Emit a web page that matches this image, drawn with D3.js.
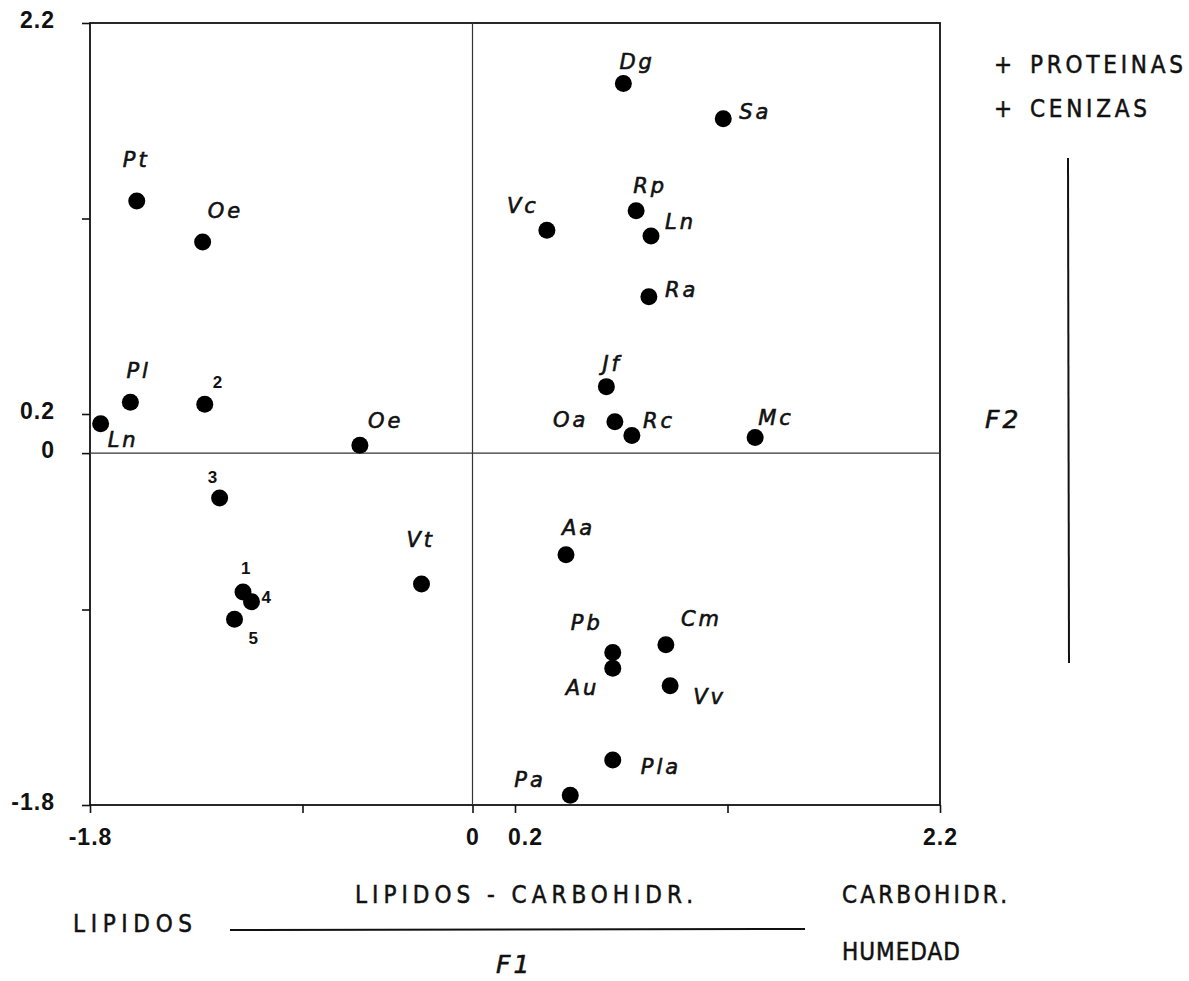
<!DOCTYPE html>
<html>
<head>
<meta charset="utf-8">
<script src="https://cdn.jsdelivr.net/npm/d3@7"></script>
<style>
    body { margin: 0; background: #fff; }
    svg text { fill: #111; }
    .axis path { display: none; }
    .axis line { stroke: #111; stroke-width: 1.6; }
    .axis text { font-family: "Liberation Sans", Arial, sans-serif; font-size: 23px; font-weight: bold; letter-spacing: 1px; fill: #111; }
    .lbl { font-family: "DejaVu Sans", sans-serif; font-style: italic; font-size: 21px; letter-spacing: 3px; stroke: #111; stroke-width: 0.6px; }
    .num { font-family: "Liberation Sans", Arial, sans-serif; font-weight: bold; font-size: 17px; }
    .cap { font-family: "DejaVu Sans Condensed", "DejaVu Sans", sans-serif; font-size: 24px; stroke: #111; stroke-width: 0.5px; }
    .big { font-family: "DejaVu Sans", sans-serif; font-style: italic; font-size: 25px; letter-spacing: 3px; stroke: #111; stroke-width: 0.6px; }
</style>
</head>
<body>
<div id="chart"></div>
<script>
/*
 factorial plane F1 x F2, species scores
 */

//species / sample names:
var names = ["Pt", "Oe", "Pl", "2", "Ln", "Oe", "3", "1", "4", "5", "Vt",
    "Dg", "Sa", "Rp", "Ln", "Vc", "Ra", "Jf", "Oa", "Rc", "Mc",
    "Aa", "Pb", "Au", "Cm", "Vv", "Pla", "Pa"];

//F1 scores:
var f1 = [-1.58, -1.27, -1.61, -1.26, -1.75, -0.53, -1.19, -1.08, -1.04, -1.12, -0.24,
    0.71, 1.18, 0.77, 0.84, 0.35, 0.83, 0.63, 0.67, 0.75, 1.33,
    0.44, 0.66, 0.66, 0.91, 0.93, 0.66, 0.46];

//F2 scores:
var f2 = [1.29, 1.08, 0.26, 0.25, 0.15, 0.04, -0.23, -0.71, -0.76, -0.85, -0.67,
    1.89, 1.71, 1.24, 1.11, 1.14, 0.80, 0.34, 0.16, 0.09, 0.08,
    -0.52, -1.02, -1.10, -0.98, -1.19, -1.57, -1.75];

//tick values and labels:
var xTicks = [-1.8, -0.8, 0, 0.2, 1.2, 2.2];
var xTickLabels = ["-1.8", "", "0", "0.2", "", "2.2"];
var yTicks = [2.2, 1.2, 0.2, 0, -0.8, -1.8];
var yTickLabels = ["2.2", "", "0.2", "0", "", "-1.8"];

//label placement (dx, dy from the dot), layout only
var labelOffsets = [[-14, -34], [5, -24], [-4, -24], [8, -16], [7, 23], [8, -17], [-12, -15], [-2, -18], [10, 1], [14, 25], [-15, -37],
    [-4, -15], [16, 0], [-3, -18], [14, -7], [-40, -17], [16, 0], [-4, -16], [-62, 5], [11, -8], [3, -12],
    [-4, -20], [-42, -23], [-47, 27], [15, -19], [23, 18], [28, 14], [-56, -8]];

var width = 1189;
var height = 981;

var plot = d3.select("#chart")
    .append("svg")
    .attr("width", width)
    .attr("height", height);

//scales:
var xScale = d3.scaleLinear().domain([-1.8, 2.2]).range([90, 940]);
var yScale = d3.scaleLinear().domain([-1.8, 2.2]).range([805, 23]);

//axis:
var xAxis = d3.axisBottom(xScale)
    .tickValues(xTicks)
    .tickSize(8)
    .tickPadding(16)
    .tickFormat(function (d, i) { return xTickLabels[i]; });
var yAxis = d3.axisLeft(yScale)
    .tickValues(yTicks)
    .tickSize(8)
    .tickPadding(27)
    .tickFormat(function (d, i) { return yTickLabels[i]; });

var gx = plot.append("g")
    .attr("class", "axis")
    .attr("transform", "translate(0," + yScale(-1.8) + ")")
    .call(xAxis);

var gy = plot.append("g")
    .attr("class", "axis")
    .attr("transform", "translate(" + xScale(-1.8) + ",0)")
    .call(yAxis);

//nudge the 0.2 label away from 0, lift the y labels a little
gx.selectAll(".tick text")
    .attr("dx", function (d) { return d === 0.2 ? 10 : 0; });
gy.selectAll(".tick text")
    .attr("dy", "0.2em");

//frame:
plot.append("rect")
    .attr("x", xScale(-1.8))
    .attr("y", yScale(2.2))
    .attr("width", xScale(2.2) - xScale(-1.8))
    .attr("height", yScale(-1.8) - yScale(2.2))
    .attr("fill", "none")
    .attr("stroke", "#111")
    .attr("stroke-width", 1.8);

//zero lines:
plot.append("line")
    .attr("x1", xScale(-1.8)).attr("x2", xScale(2.2))
    .attr("y1", yScale(0)).attr("y2", yScale(0))
    .attr("stroke", "#333").attr("stroke-width", 1.2);
plot.append("line")
    .attr("x1", xScale(0)).attr("x2", xScale(0))
    .attr("y1", yScale(2.2)).attr("y2", yScale(-1.8))
    .attr("stroke", "#333").attr("stroke-width", 1.2);

//points:
var data = names.map(function (n, i) {
    return {name: n, x: f1[i], y: f2[i], off: labelOffsets[i]};
});

var panel = plot.append("g");

panel.selectAll(".dot")
    .data(data)
    .enter().append("circle")
    .attr("class", "dot")
    .attr("r", 8.5)
    .attr("cx", function (d) { return xScale(d.x); })
    .attr("cy", function (d) { return yScale(d.y); })
    .style("fill", "#000");

panel.selectAll(".plabel")
    .data(data)
    .enter().append("text")
    .attr("class", function (d) { return isNaN(+d.name) ? "plabel lbl" : "plabel num"; })
    .attr("x", function (d) { return xScale(d.x) + d.off[0]; })
    .attr("y", function (d) { return yScale(d.y) + d.off[1]; })
    .text(function (d) { return d.name; });

//right side legend (F2):
plot.append("text").attr("class", "cap").attr("x", 994).attr("y", 73).text("+");
plot.append("text").attr("class", "cap").attr("x", 1030).attr("y", 73)
    .attr("textLength", 153).text("PROTEINAS");
plot.append("text").attr("class", "cap").attr("x", 994).attr("y", 117).text("+");
plot.append("text").attr("class", "cap").attr("x", 1030).attr("y", 117)
    .attr("textLength", 117).text("CENIZAS");
plot.append("line")
    .attr("x1", 1068).attr("x2", 1069)
    .attr("y1", 158).attr("y2", 663)
    .attr("stroke", "#111").attr("stroke-width", 2);
plot.append("text").attr("class", "big").attr("x", 985).attr("y", 428).text("F2");

//bottom legend (F1):
plot.append("text").attr("class", "cap").attr("x", 355).attr("y", 903)
    .attr("textLength", 338).text("LIPIDOS - CARBOHIDR.");
plot.append("text").attr("class", "cap").attr("x", 842).attr("y", 903)
    .attr("textLength", 165).text("CARBOHIDR.");
plot.append("text").attr("class", "cap").attr("x", 73).attr("y", 932)
    .attr("textLength", 119).text("LIPIDOS");
plot.append("line")
    .attr("x1", 230).attr("x2", 805)
    .attr("y1", 930).attr("y2", 929)
    .attr("stroke", "#111").attr("stroke-width", 2);
plot.append("text").attr("class", "cap").attr("x", 842).attr("y", 960)
    .attr("textLength", 118).text("HUMEDAD");
plot.append("text").attr("class", "big").attr("x", 496).attr("y", 973).text("F1");
</script>
</body>
</html>
